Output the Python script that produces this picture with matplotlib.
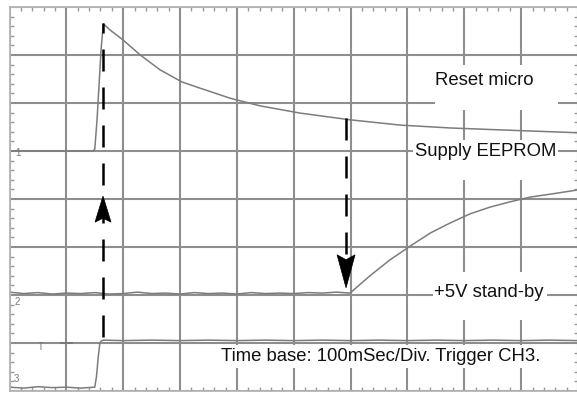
import matplotlib
matplotlib.use("Agg")
import matplotlib.pyplot as plt
from matplotlib.patches import Rectangle, Polygon
from matplotlib.ticker import MultipleLocator

plt.rcParams['font.family'] = ['Liberation Sans', 'DejaVu Sans']
plt.rcParams['lines.scale_dashes'] = False

# ---- data (time in ms, amplitude in screen divisions) ----
ch1_t = [0, 147, 150, 154, 157, 161, 165, 177, 200, 230, 265, 303, 335, 388, 441,
         511, 599, 687, 775, 863, 1000]
ch1_v = [5.0, 5.0, 5.04, 5.65, 6.27, 7.1, 7.65, 7.52, 7.31, 7.0, 6.69, 6.44, 6.31,
         6.1, 5.94, 5.79, 5.65, 5.54, 5.48, 5.44, 5.38]

ch2_t = [0, 25, 50, 75, 100, 125, 150, 175, 200, 225, 250, 275, 300, 325, 350, 375,
         400, 425, 450, 475, 500, 525, 550, 575, 599, 634, 669, 705, 740, 775, 810,
         845, 880, 916, 951, 1000]
ch2_v = [2.06, 2.03, 2.05, 2.02, 2.04, 2.03, 2.05, 2.02, 2.03, 2.06, 2.03, 2.04,
         2.02, 2.05, 2.03, 2.04, 2.02, 2.05, 2.03, 2.04, 2.03, 2.05, 2.04, 2.06,
         2.04, 2.4, 2.73, 3.02, 3.29, 3.5, 3.69, 3.83, 3.94, 4.04, 4.1, 4.19]

ch3_t = [0, 25, 50, 75, 100, 125, 150, 153, 156, 159, 162, 166, 200, 250, 300, 350,
         400, 450, 500, 550, 600, 650, 700, 750, 800, 850, 900, 950, 1000]
ch3_v = [0.08, 0.06, 0.09, 0.07, 0.08, 0.06, 0.08, 0.3, 0.7, 1.0, 1.05, 1.06, 1.05,
         1.06, 1.05, 1.06, 1.05, 1.06, 1.05, 1.06, 1.05, 1.06, 1.05, 1.06, 1.05,
         1.06, 1.05, 1.06, 1.05]

labels = ["Reset micro", "Supply EEPROM", "+5V stand-by",
          "Time base: 100mSec/Div. Trigger CH3."]
label_pos = [(835, 6.375), (838, 4.90), (843, 1.96), (653, 0.625)]
boxes = [(748, 964, 5.85, 6.79), (710, 965, 4.40, 5.23),
         (745, 946, 1.48, 2.48), (361, 942, 0.48, 0.96)]

arrow1_t, arrow1_top, arrow1_bottom, arrow1_tip = 164.5, 7.67, 1.10, 4.06
arrow2_t, arrow2_top, arrow2_tip = 592, 5.69, 2.15

# ---- figure ----
fig = plt.figure(figsize=(5.77, 3.94), dpi=100)
ax = fig.add_axes([9.5 / 577, 3 / 394, (578 - 9.5) / 577, 384 / 394])
ax.set_xlim(0, 1000)
ax.set_ylim(0, 8)

ax.set_xticks(range(0, 1001, 100))
ax.set_yticks(range(0, 9))
ax.xaxis.set_minor_locator(MultipleLocator(20))
ax.yaxis.set_minor_locator(MultipleLocator(0.2))
ax.tick_params(which='both', direction='in', top=True, right=True, bottom=True,
               left=True, labelbottom=False, labelleft=False)
ax.tick_params(which='major', length=0)
ax.tick_params(which='minor', length=3.2, width=1.0, color='#9a9a9a')
ax.grid(True, which='major', color='#8e8e8e', lw=1.5, zorder=0)
ax.set_axisbelow(True)
for s in ax.spines.values():
    s.set_color('#b5b5b5')
    s.set_linewidth(1.3)

# white label boxes
for (x0, x1, y0, y1) in boxes:
    ax.add_patch(Rectangle((x0, y0), x1 - x0, y1 - y0, facecolor='white',
                           edgecolor='none', zorder=1.5))

# traces
tr = dict(color='#7c7c7c', lw=1.1, zorder=2)
ax.plot(ch1_t, ch1_v, **tr)
ax.plot(ch2_t, ch2_v, **tr)
ax.plot(ch3_t, ch3_v, **tr)

# channel markers
mk = dict(color='#777777', fontsize=7, ha='center', va='center', zorder=3)
ax.text(15, 4.95, "1", **mk)
ax.text(13, 1.86, "2", **mk)
ax.text(12, 0.25, "3", **mk)
ax.text(55, 0.92, "T", **mk)
ax.plot([90, 110], [1.0, 1.0], color='#777777', lw=1.2, zorder=2)

# texts
for txt, (x, y) in zip(labels, label_pos):
    ax.text(x, y, txt, fontsize=13.3, color='#111111', ha='center',
            va='baseline', zorder=4)

# dashed arrow lines
px_per_pt = 100 / 72
dash = (22 / px_per_pt, 16 / px_per_pt)
l1, = ax.plot([arrow1_t, arrow1_t], [arrow1_top, arrow1_bottom], color='black',
              lw=1.8, zorder=5, dash_capstyle='butt')
l1.set_linestyle((12 / px_per_pt, dash))
l2, = ax.plot([arrow2_t, arrow2_t], [arrow2_top, arrow2_tip + 0.5], color='black',
              lw=1.8, zorder=5, dash_capstyle='butt')
l2.set_linestyle((0, dash))

# arrowheads (half width 8-9 px, length ~26-33 px)
hw1 = 8 / 56.85 * 100
hl1 = 26 / 48
ax.add_patch(Polygon([[arrow1_t, arrow1_tip], [arrow1_t - hw1, arrow1_tip - hl1],
                      [arrow1_t, arrow1_tip - hl1 * 0.85],
                      [arrow1_t + hw1, arrow1_tip - hl1]],
                     closed=True, facecolor='black', edgecolor='black', lw=0.5, zorder=6))
hw2 = 9 / 56.85 * 100
hl2 = 33 / 48
ax.add_patch(Polygon([[arrow2_t, arrow2_tip], [arrow2_t - hw2, arrow2_tip + hl2],
                      [arrow2_t, arrow2_tip + hl2 * 0.85],
                      [arrow2_t + hw2, arrow2_tip + hl2]],
                     closed=True, facecolor='black', edgecolor='black', lw=0.5, zorder=6))

fig.savefig("out.png", dpi=100, facecolor='white')
